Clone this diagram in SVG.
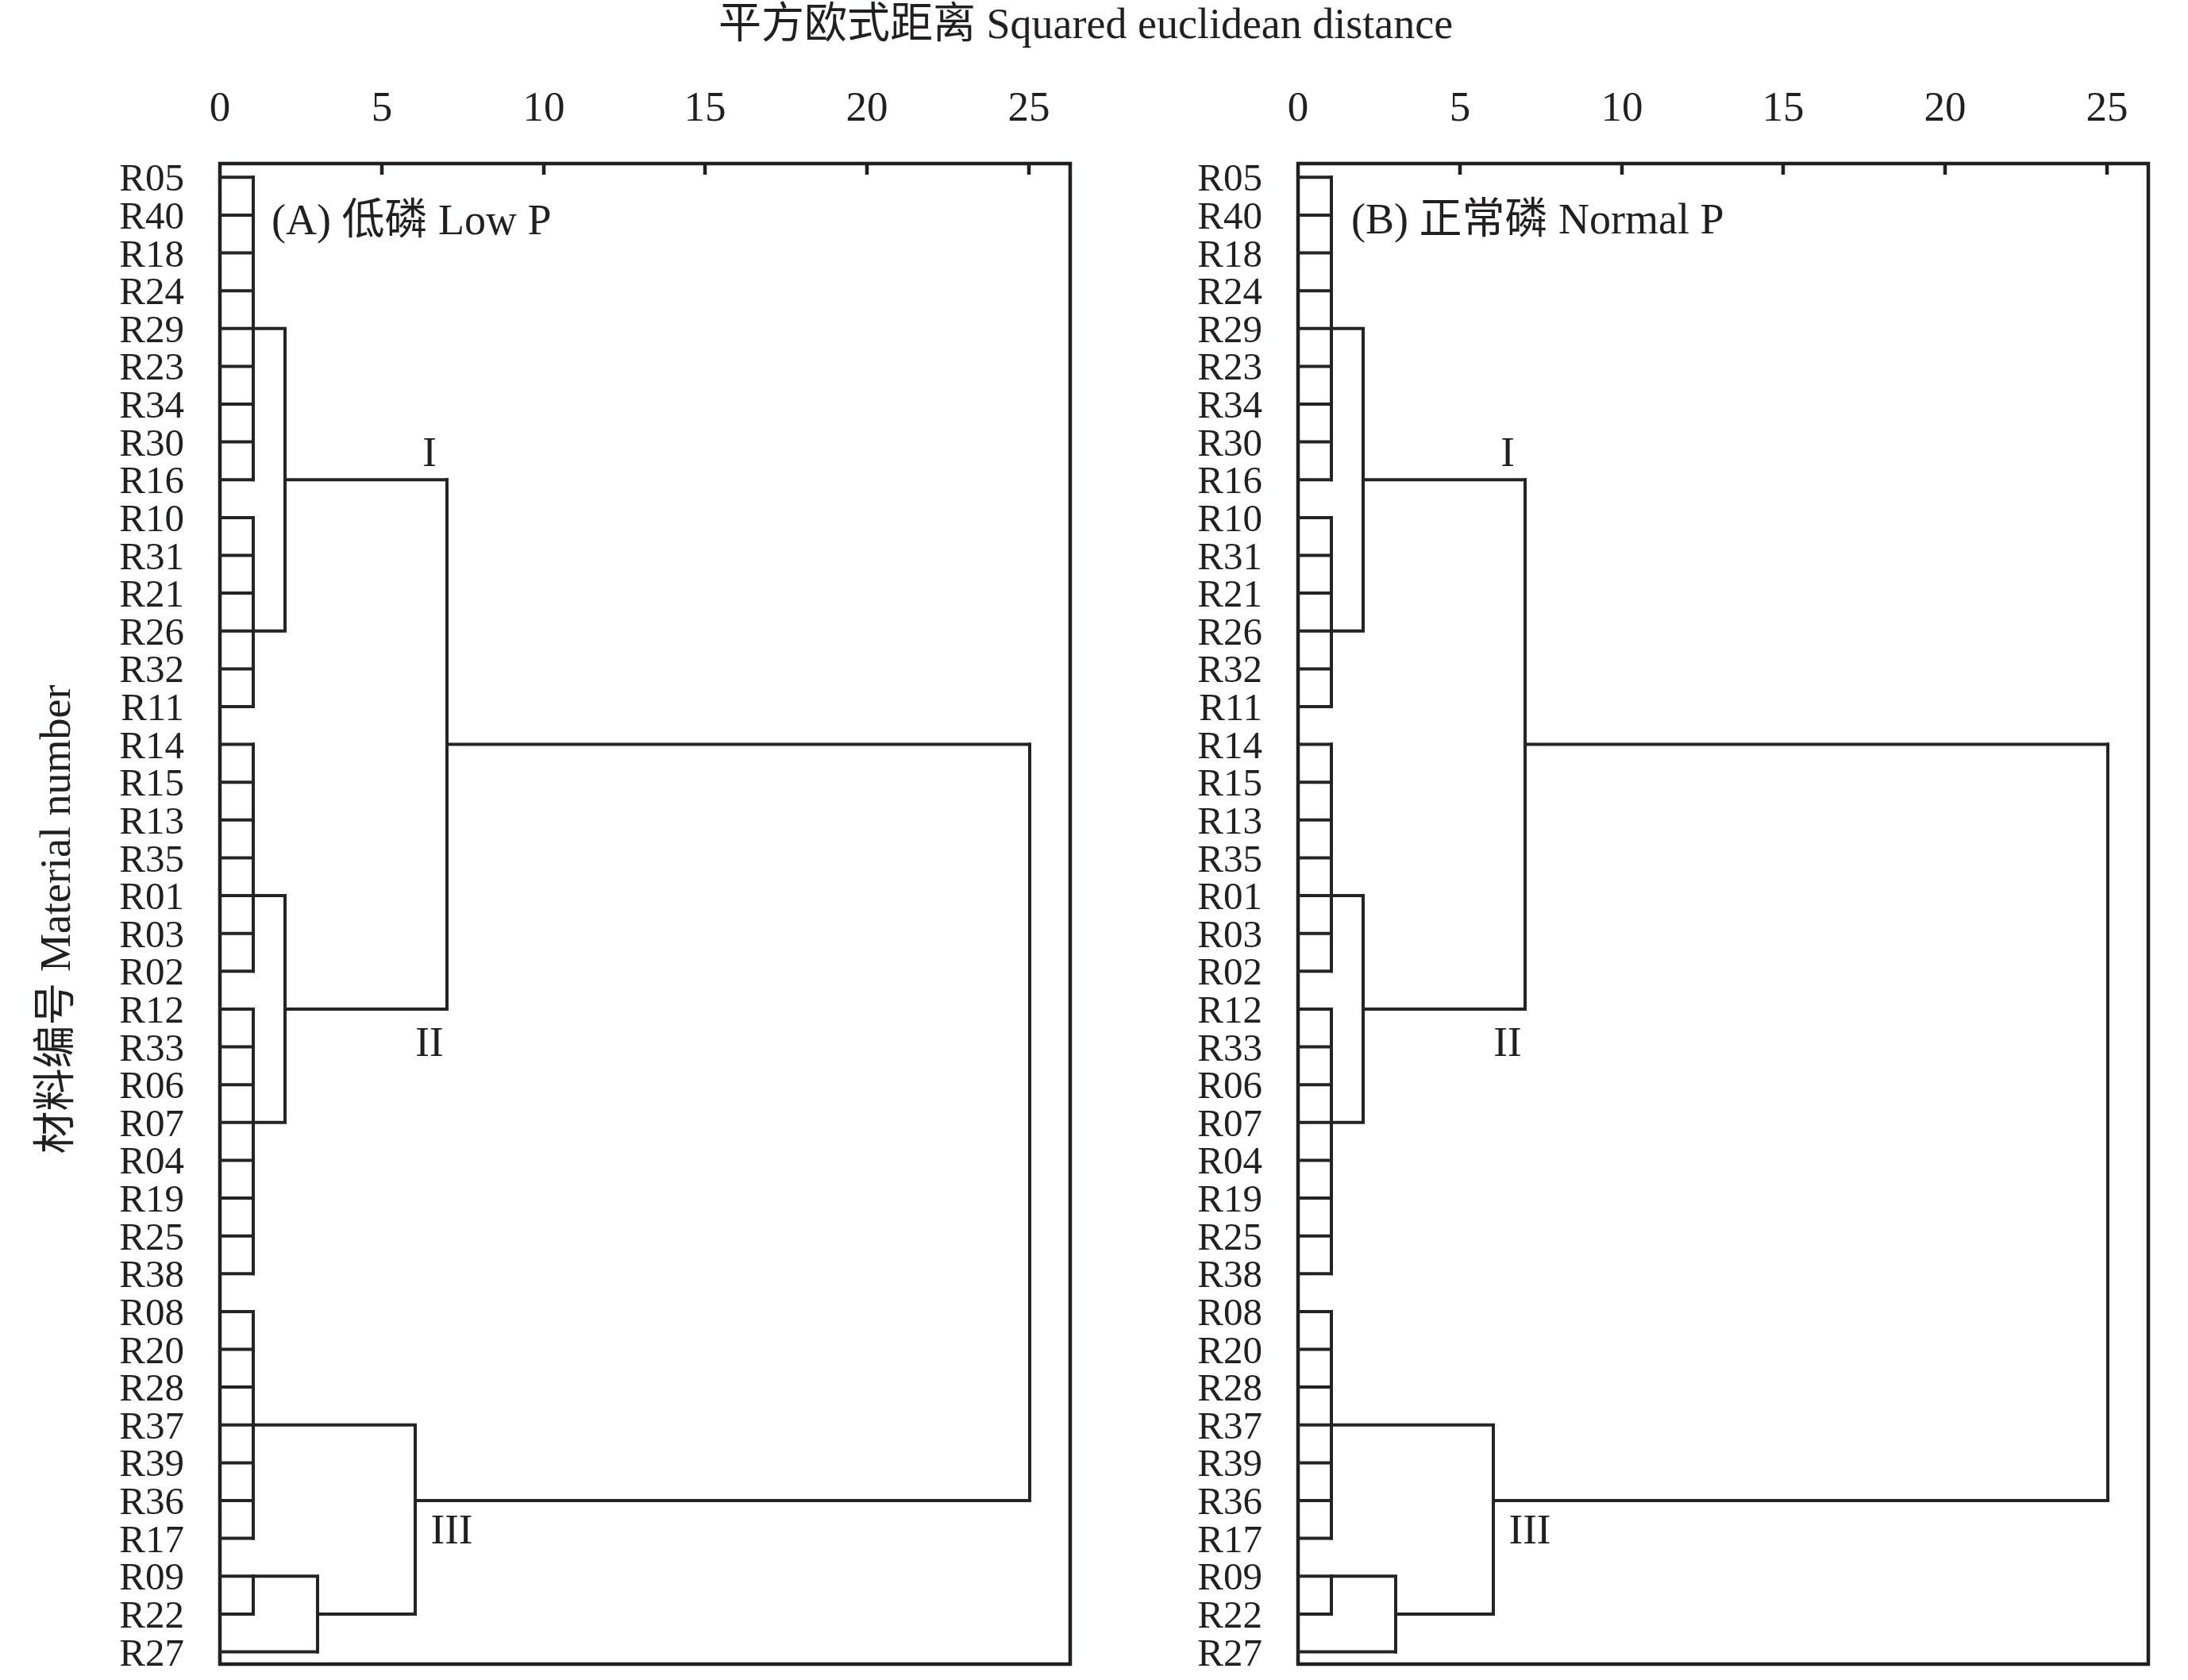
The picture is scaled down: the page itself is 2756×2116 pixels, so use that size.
<svg xmlns="http://www.w3.org/2000/svg" xmlns:xlink="http://www.w3.org/1999/xlink" width="2756" height="2116" viewBox="0 0 2756 2116">
<style>
text{font-family:"Liberation Serif","Times New Roman","Noto Sans CJK SC",serif;fill:#231f20}
.lbl{font-size:49px;text-anchor:end}
.tick{font-size:53px;text-anchor:middle}
.big{font-size:54px}
.rom{font-size:53px;text-anchor:middle}
.frame{fill:none;stroke:#231f20;stroke-width:4.5}
.tk{stroke:#231f20;stroke-width:4.5;fill:none}
.ln{fill:none;stroke:#262324;stroke-width:4;stroke-linecap:square;stroke-linejoin:miter}
</style>
<rect width="2756" height="2116" fill="#ffffff"/>
<defs>
<g id="tree">
<path class="ln" d="M277 223.3H319M277 270.9H319M277 318.5H319M277 366.2H319M277 413.8H319M277 461.4H319M277 509.0H319M277 556.6H319M277 604.3H319M277 651.9H319M277 699.5H319M277 747.1H319M277 794.7H319M277 842.4H319M277 890.0H319M277 937.6H319M277 985.2H319M277 1032.8H319M277 1080.5H319M277 1128.1H319M277 1175.7H319M277 1223.3H319M277 1270.9H319M277 1318.6H319M277 1366.2H319M277 1413.8H319M277 1461.4H319M277 1509.0H319M277 1556.7H319M277 1604.3H319M277 1651.9H319M277 1699.5H319M277 1747.1H319M277 1794.8H319M277 1842.4H319M277 1890.0H319M277 1937.6H319M277 1985.2H319M277 2032.9H319M277 2080.5H400"/>
<path class="ln" d="M319 223.3V604.3M319 651.9V890.0M319 937.6V1223.3M319 1270.9V1604.3M319 1651.9V1937.6M319 1985.2V2032.9"/>
<path class="ln" d="M319 413.8H359V794.7H319M359 604.3H563"/>
<path class="ln" d="M319 1128.1H359V1413.8H319M359 1270.9H563"/>
<path class="ln" d="M563 604.3V1270.9M563 937.6H1297"/>
<path class="ln" d="M319 1794.8H523M319 1985.2H400V2080.5M400 2032.9H523M523 1794.8V2032.9M523 1890.0H1297"/>
<path class="ln" d="M1297 937.6V1890.0"/>
</g>
<g id="axes">
<rect class="frame" x="277" y="206" width="1071" height="1890"/>
<path class="tk" d="M481 206V220M685 206V220M888 206V220M1092 206V220M1296 206V220"/>
</g>
</defs>

<g id="axis-title">
<text class="big" x="905" y="48">平方欧式距离 Squared euclidean distance</text>
<text class="big" transform="translate(88,1158) rotate(-90)" text-anchor="middle">材料编号 Material number</text>
</g>

<g id="panel-A">
<use xlink:href="#axes" href="#axes"/>
<g id="ticks-A">
<text class="tick" x="277" y="152">0</text>
<text class="tick" x="481" y="152">5</text>
<text class="tick" x="685" y="152">10</text>
<text class="tick" x="888" y="152">15</text>
<text class="tick" x="1092" y="152">20</text>
<text class="tick" x="1296" y="152">25</text>
</g>
<text class="big" x="342" y="295">(A) 低磷 Low P</text>
<g id="connectors-A">
<use xlink:href="#tree" href="#tree"/>
</g>
<text class="rom" x="541" y="587">I</text>
<text class="rom" x="541" y="1330">II</text>
<text class="rom" x="569" y="1944">III</text>
<g id="leaves-A">
<text class="lbl" x="232" y="240.3">R05</text>
<text class="lbl" x="232" y="287.9">R40</text>
<text class="lbl" x="232" y="335.5">R18</text>
<text class="lbl" x="232" y="383.2">R24</text>
<text class="lbl" x="232" y="430.8">R29</text>
<text class="lbl" x="232" y="478.4">R23</text>
<text class="lbl" x="232" y="526.0">R34</text>
<text class="lbl" x="232" y="573.6">R30</text>
<text class="lbl" x="232" y="621.3">R16</text>
<text class="lbl" x="232" y="668.9">R10</text>
<text class="lbl" x="232" y="716.5">R31</text>
<text class="lbl" x="232" y="764.1">R21</text>
<text class="lbl" x="232" y="811.7">R26</text>
<text class="lbl" x="232" y="859.4">R32</text>
<text class="lbl" x="232" y="907.0">R11</text>
<text class="lbl" x="232" y="954.6">R14</text>
<text class="lbl" x="232" y="1002.2">R15</text>
<text class="lbl" x="232" y="1049.8">R13</text>
<text class="lbl" x="232" y="1097.5">R35</text>
<text class="lbl" x="232" y="1145.1">R01</text>
<text class="lbl" x="232" y="1192.7">R03</text>
<text class="lbl" x="232" y="1240.3">R02</text>
<text class="lbl" x="232" y="1287.9">R12</text>
<text class="lbl" x="232" y="1335.6">R33</text>
<text class="lbl" x="232" y="1383.2">R06</text>
<text class="lbl" x="232" y="1430.8">R07</text>
<text class="lbl" x="232" y="1478.4">R04</text>
<text class="lbl" x="232" y="1526.0">R19</text>
<text class="lbl" x="232" y="1573.7">R25</text>
<text class="lbl" x="232" y="1621.3">R38</text>
<text class="lbl" x="232" y="1668.9">R08</text>
<text class="lbl" x="232" y="1716.5">R20</text>
<text class="lbl" x="232" y="1764.1">R28</text>
<text class="lbl" x="232" y="1811.8">R37</text>
<text class="lbl" x="232" y="1859.4">R39</text>
<text class="lbl" x="232" y="1907.0">R36</text>
<text class="lbl" x="232" y="1954.6">R17</text>
<text class="lbl" x="232" y="2002.2">R09</text>
<text class="lbl" x="232" y="2049.9">R22</text>
<text class="lbl" x="232" y="2097.5">R27</text>
</g>
</g>

<g id="panel-B" transform="translate(1358,0)">
<use xlink:href="#axes" href="#axes"/>
<g id="ticks-B">
<text class="tick" x="277" y="152">0</text>
<text class="tick" x="481" y="152">5</text>
<text class="tick" x="685" y="152">10</text>
<text class="tick" x="888" y="152">15</text>
<text class="tick" x="1092" y="152">20</text>
<text class="tick" x="1296" y="152">25</text>
</g>
<text class="big" x="344" y="294">(B) 正常磷 Normal P</text>
<g id="connectors-B">
<use xlink:href="#tree" href="#tree"/>
</g>
<text class="rom" x="541" y="587">I</text>
<text class="rom" x="541" y="1330">II</text>
<text class="rom" x="569" y="1944">III</text>
<g id="leaves-B">
<text class="lbl" x="232" y="240.3">R05</text>
<text class="lbl" x="232" y="287.9">R40</text>
<text class="lbl" x="232" y="335.5">R18</text>
<text class="lbl" x="232" y="383.2">R24</text>
<text class="lbl" x="232" y="430.8">R29</text>
<text class="lbl" x="232" y="478.4">R23</text>
<text class="lbl" x="232" y="526.0">R34</text>
<text class="lbl" x="232" y="573.6">R30</text>
<text class="lbl" x="232" y="621.3">R16</text>
<text class="lbl" x="232" y="668.9">R10</text>
<text class="lbl" x="232" y="716.5">R31</text>
<text class="lbl" x="232" y="764.1">R21</text>
<text class="lbl" x="232" y="811.7">R26</text>
<text class="lbl" x="232" y="859.4">R32</text>
<text class="lbl" x="232" y="907.0">R11</text>
<text class="lbl" x="232" y="954.6">R14</text>
<text class="lbl" x="232" y="1002.2">R15</text>
<text class="lbl" x="232" y="1049.8">R13</text>
<text class="lbl" x="232" y="1097.5">R35</text>
<text class="lbl" x="232" y="1145.1">R01</text>
<text class="lbl" x="232" y="1192.7">R03</text>
<text class="lbl" x="232" y="1240.3">R02</text>
<text class="lbl" x="232" y="1287.9">R12</text>
<text class="lbl" x="232" y="1335.6">R33</text>
<text class="lbl" x="232" y="1383.2">R06</text>
<text class="lbl" x="232" y="1430.8">R07</text>
<text class="lbl" x="232" y="1478.4">R04</text>
<text class="lbl" x="232" y="1526.0">R19</text>
<text class="lbl" x="232" y="1573.7">R25</text>
<text class="lbl" x="232" y="1621.3">R38</text>
<text class="lbl" x="232" y="1668.9">R08</text>
<text class="lbl" x="232" y="1716.5">R20</text>
<text class="lbl" x="232" y="1764.1">R28</text>
<text class="lbl" x="232" y="1811.8">R37</text>
<text class="lbl" x="232" y="1859.4">R39</text>
<text class="lbl" x="232" y="1907.0">R36</text>
<text class="lbl" x="232" y="1954.6">R17</text>
<text class="lbl" x="232" y="2002.2">R09</text>
<text class="lbl" x="232" y="2049.9">R22</text>
<text class="lbl" x="232" y="2097.5">R27</text>
</g>
</g>
</svg>
